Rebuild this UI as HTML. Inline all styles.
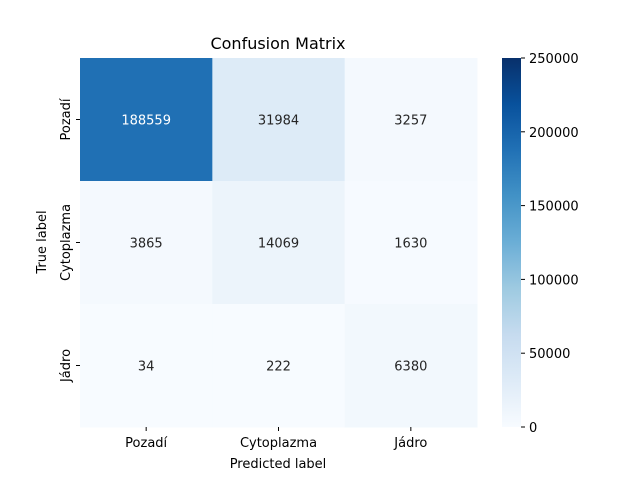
<!DOCTYPE html>
<html><head><meta charset="utf-8"><style>
body{margin:0;background:#fff}
svg text{font-family:"DejaVu Sans","Liberation Sans",sans-serif;font-size:13px;fill:#262626}
</style></head><body>
<svg id="chart" width="640" height="480" xmlns="http://www.w3.org/2000/svg">
<text x="278" y="49" text-anchor="middle" style="font-size:16px;fill:#000">Confusion Matrix</text>
<g id="cells"></g>
<g id="axes"></g>
<g id="cbar"></g>
<text x="278" y="468" text-anchor="middle" style="fill:#000">Predicted label</text>
<text transform="translate(46,242) rotate(-90)" text-anchor="middle" style="fill:#000">True label</text>
</svg>
<script>
const categories=["Pozadí","Cytoplazma","Jádro"];
const row0=[188559,31984,3257];
const row1=[3865,14069,1630];
const row2=[34,222,6380];
const matrix=[row0,row1,row2];
const vmax=250000;
const cbarTicks=[0,50000,100000,150000,200000,250000];
const NS="http://www.w3.org/2000/svg";
const X0=80,X1=477,Y0=58,Y1=427;
const cw=(X1-X0)/categories.length, ch=(Y1-Y0)/categories.length;
const stops=["#f7fbff","#deebf7","#c6dbef","#9ecae1","#6baed6","#4292c6","#2171b5","#08519c","#08306b"];
function hex(h){return [1,3,5].map(i=>parseInt(h.substr(i,2),16));}
function blues(t){t=Math.max(0,Math.min(1,t));const p=t*8,i=Math.min(7,Math.floor(p)),f=p-i;
const a=hex(stops[i]),b=hex(stops[i+1]);return a.map((v,k)=>Math.round(v+(b[k]-v)*f));}
function mk(tag,at,parent){const e=document.createElementNS(NS,tag);for(const k in at)e.setAttribute(k,at[k]);parent.appendChild(e);return e;}
const cells=document.getElementById('cells'),axes=document.getElementById('axes'),cb=document.getElementById('cbar');
matrix.forEach((row,r)=>row.forEach((v,c)=>{
 const col=blues(v/vmax);
 const rect=mk('rect',{x:X0+c*cw,y:Y0+r*ch,width:cw+0.5,height:ch+0.5,fill:`rgb(${col})`},cells);
 
 
 const lum=(0.2126*col[0]+0.7152*col[1]+0.0722*col[2])/255;
 const t=mk('text',{x:X0+(c+0.5)*cw,y:Y0+(r+0.5)*ch+5,'text-anchor':'middle'},cells);
 t.style.fill=lum>0.408?'#262626':'#ffffff';
 t.textContent=v;
 
 
}));
categories.forEach((c,i)=>{
 const x=X0+(i+0.5)*cw;
 mk('line',{x1:x,x2:x,y1:Y1,y2:Y1+4,stroke:'#000'},axes);
 const t=mk('text',{x:x,y:Y1+20,'text-anchor':'middle'},axes);t.style.fill='#000';t.textContent=c;
 
 
 const y=Y0+(i+0.5)*ch;
 mk('line',{x1:X0-4,x2:X0,y1:y,y2:y,stroke:'#000'},axes);
 const u=mk('text',{transform:`translate(${X0-10},${y}) rotate(-90)`,'text-anchor':'middle'},axes);u.style.fill='#000';u.textContent=c;
 
 
});
const CX=502,CW=19;
const defs=mk('defs',{},cb);const g=mk('linearGradient',{id:'gr',x1:0,y1:1,x2:0,y2:0},defs);
for(let i=0;i<=16;i++){const col=blues(i/16);mk('stop',{offset:i/16,'stop-color':`rgb(${col})`},g);}
const cr=mk('rect',{x:CX,y:Y0,width:CW,height:Y1-Y0,fill:'url(#gr)'},cb);


cbarTicks.forEach(v=>{
 const y=Y1-(v/vmax)*(Y1-Y0);
 mk('line',{x1:CX+CW,x2:CX+CW+4,y1:y,y2:y,stroke:'#000'},cb);
 const t=mk('text',{x:CX+CW+8,y:y+5},cb);t.style.fill='#000';t.textContent=v;
 
 
});
</script>
</body></html>
